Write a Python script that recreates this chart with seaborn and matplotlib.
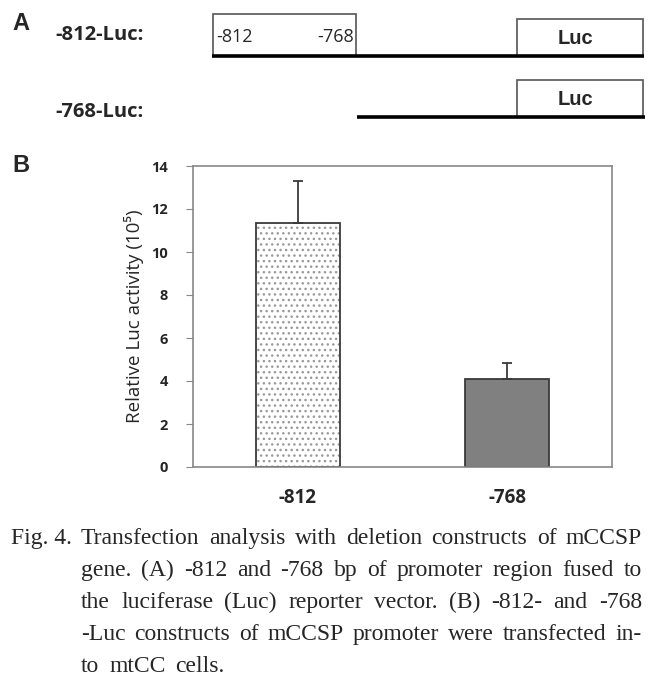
import numpy as np
import pandas as pd
import matplotlib
matplotlib.use("Agg")
import matplotlib.pyplot as plt
from matplotlib.patches import Rectangle
from matplotlib.colors import to_rgba
import seaborn as sns

#Data###################################################################################
constructs = ["-812", "-768"]
activity = [11.36, 4.09]
activity_err = [1.93, 0.75]
bar_colors = ["white", "#808080"]
y_ticks = [0, 2, 4, 6, 8, 10, 12, 14]
y_label = "Relative Luc activity (10\u2075)"

#panel A construct labels
diagram_labels = ["-812-Luc:", "-768-Luc:"]

caption_first = "Fig. 4."
caption_lines = ["Transfection analysis with deletion constructs of mCCSP",
                 "gene. (A) -812 and -768 bp of promoter region fused to",
                 "the luciferase (Luc) reporter vector. (B) -812- and -768",
                 "-Luc constructs of mCCSP promoter were transfected in-",
                 "to mtCC cells."]

df = pd.DataFrame({"construct": constructs, "activity": activity})

#Figure#################################################################################
sns.set_style("white")
plt.rcParams["font.family"] = ["Open Sans", "DejaVu Sans"]

W, H = 666, 682
fig = plt.figure(figsize=(W / 100, H / 100), dpi=100)

#overlay axes in pixel units for panel A and caption
ax0 = fig.add_axes([0, 0, 1, 1])
ax0.set_xlim(0, W)
ax0.set_ylim(H, 0)
ax0.axis("off")

#panel letters
ax0.text(12, 24, "A", fontsize=17, fontweight="bold", family="Liberation Sans", va="center")
ax0.text(12, 165, "B", fontsize=17, fontweight="bold", family="Liberation Sans", va="center")

#construct labels
ax0.text(55, 35, diagram_labels[0], fontsize=14.5, fontweight="bold", va="center")
ax0.text(55, 112, diagram_labels[1], fontsize=14.5, fontweight="bold", va="center")

#promoter box of -812 construct
ax0.add_patch(Rectangle((213, 13.5), 143, 42, fill=False, edgecolor="#555555", lw=1.2))
ax0.text(216, 37, "-812", fontsize=13, va="center", ha="left")
ax0.text(354, 37, "-768", fontsize=13, va="center", ha="right")

#Luc boxes
for top, bot in [(19, 55.5), (80, 117)]:
    ax0.add_patch(Rectangle((517, top), 126, bot - top, fill=False, edgecolor="#555555", lw=1.2))
    ax0.text(575, (top + bot) / 2 + 1, "Luc", fontsize=14.5, fontweight="bold",
             family="Liberation Sans", ha="center", va="center")

#backbone lines
ax0.plot([212, 644], [56, 56], color="black", lw=2.6, solid_capstyle="butt")
ax0.plot([357, 645], [117, 117], color="black", lw=2.6, solid_capstyle="butt")

#Bar chart##############################################################################
ax = fig.add_axes([193 / W, 1 - 467 / H, (612 - 193) / W, (467 - 166) / H])

sns.barplot(data=df, x="construct", y="activity", hue="construct",
            palette=bar_colors, width=0.4, edgecolor="#3a3a3a", linewidth=1.3,
            legend=False, ax=ax, zorder=2)

#dotted fill for first bar
p = ax.patches[0]
p.set_hatch("...")
p._hatch_color = to_rgba("#9a9a9a")
plt.rcParams["hatch.linewidth"] = 0.8

#upper error bars only
xs = np.arange(len(constructs))
ax.errorbar(xs, activity, yerr=[np.zeros(len(activity)), activity_err], fmt="none",
            ecolor="#3a3a3a", elinewidth=1.3, capsize=3.5, capthick=1.3, zorder=3)

ax.set_ylim(0, 14)
ax.set_xlim(-0.5, 1.5)
ax.set_yticks(y_ticks)
ax.set_yticklabels([str(t) for t in y_ticks], fontsize=10.5, fontweight="bold")
ax.set_xticks(xs)
ax.set_xticklabels(constructs, fontsize=13.5, fontweight="bold")
ax.set_xticks([-0.5, 0.5, 1.5], minor=True)
ax.tick_params(axis="x", which="major", length=0, pad=15)
ax.tick_params(axis="x", which="minor", length=5, color="#888888", direction="out")
ax.tick_params(axis="y", length=5, color="#888888", direction="out", pad=13, left=True)
ax.set_xlabel("")
ax.set_ylabel(y_label, fontsize=13.5, labelpad=5)

for s in ax.spines.values():
    s.set_visible(True)
    s.set_color("#888888")
    s.set_linewidth(1.2)

#Caption################################################################################
renderer = fig.canvas.get_renderer()
cap_font = dict(fontsize=17, family="Liberation Serif", va="baseline")
x_left, x_right = 81, 642
baseline0, line_step = 544, 32

ax0.text(11, baseline0, caption_first, **cap_font)

for i, line in enumerate(caption_lines):
    y = baseline0 + i * line_step
    words = line.split(" ")
    texts = [ax0.text(0, y, w, **cap_font) for w in words]
    widths = [t.get_window_extent(renderer).width for t in texts]
    if i < len(caption_lines) - 1:
        gap = (x_right - x_left - sum(widths)) / (len(words) - 1)
    else:
        gap = 10
    x = x_left
    for t, w in zip(texts, widths):
        t.set_x(x)
        x += w + gap

fig.savefig("out.png", dpi=100)
